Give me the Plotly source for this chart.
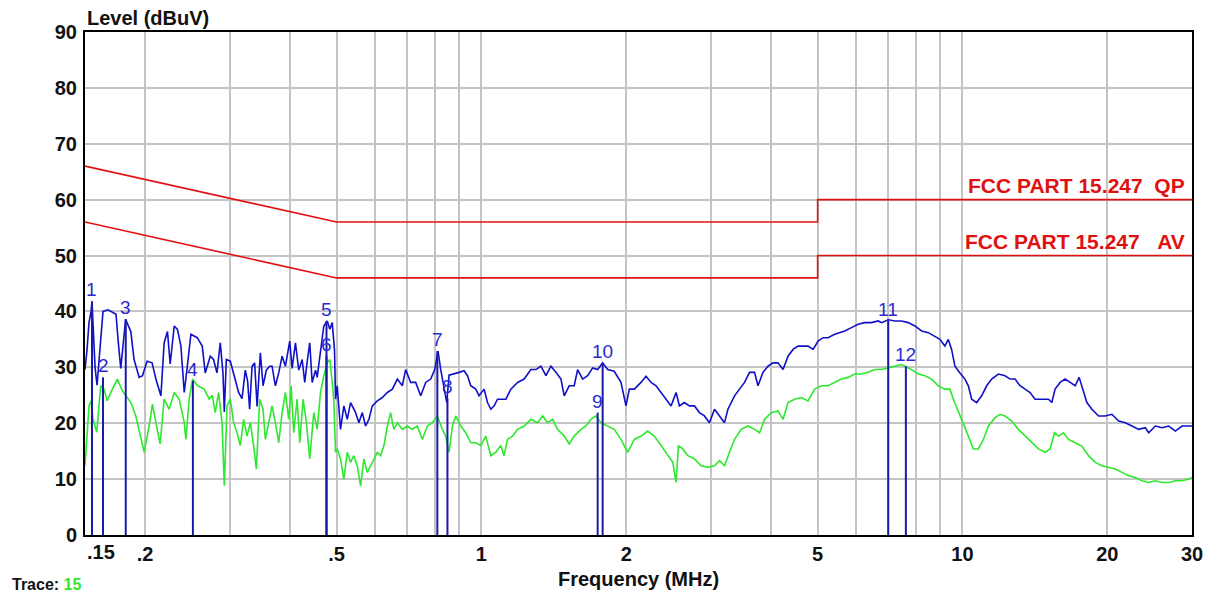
import math
import plotly.graph_objects as go

# ---------------- data ----------------
blue_freq = [0.150, 0.1514, 0.1529, 0.1544, 0.1551, 0.1562, 0.1574, 0.1589, 0.1604, 0.1620, 0.1635, 0.1675, 0.1715, 0.1740, 0.1757, 0.1780, 0.1800, 0.1822, 0.1844, 0.1868, 0.1897, 0.1944, 0.1975, 0.2019, 0.2068, 0.2106, 0.2157, 0.2191, 0.2226, 0.2255, 0.2299, 0.2335, 0.2374, 0.2412, 0.2450, 0.2490, 0.2567, 0.2629, 0.2667, 0.2732, 0.2775, 0.2821, 0.2866, 0.2903, 0.2922, 0.2950, 0.3007, 0.3055, 0.3129, 0.3180, 0.3231, 0.3267, 0.3298, 0.3337, 0.3378, 0.3418, 0.3472, 0.3517, 0.3573, 0.3630, 0.3672, 0.3731, 0.3791, 0.3853, 0.3915, 0.3996, 0.4042, 0.4107, 0.4173, 0.4241, 0.4294, 0.4344, 0.4398, 0.4449, 0.4521, 0.4557, 0.4630, 0.4704, 0.4782, 0.4842, 0.4898, 0.4952, 0.4976, 0.5016, 0.5096, 0.5178, 0.5263, 0.5347, 0.5477, 0.5564, 0.5656, 0.5746, 0.5838, 0.5934, 0.6078, 0.6225, 0.6376, 0.6531, 0.6689, 0.6851, 0.6960, 0.7129, 0.7302, 0.7479, 0.7661, 0.7847, 0.7999, 0.8126, 0.8232, 0.8364, 0.8473, 0.8566, 0.8774, 0.8987, 0.9205, 0.9356, 0.9505, 0.9736, 0.9891, 1.0131, 1.0298, 1.0462, 1.0629, 1.0804, 1.0977, 1.1243, 1.1515, 1.1891, 1.2274, 1.2675, 1.2982, 1.3297, 1.3620, 1.3950, 1.4288, 1.4635, 1.4865, 1.5225, 1.5594, 1.5851, 1.6236, 1.6629, 1.7033, 1.7447, 1.7868, 1.8302, 1.8888, 1.9506, 1.9980, 2.0300, 2.0792, 2.1470, 2.1992, 2.2526, 2.3072, 2.3633, 2.4206, 2.4794, 2.5395, 2.5802, 2.6427, 2.7069, 2.7726, 2.8400, 2.9088, 2.9795, 3.0519, 3.1259, 3.2018, 3.2544, 3.3063, 3.3590, 3.4404, 3.5240, 3.6095, 3.6971, 3.7578, 3.8490, 3.9423, 4.0380, 4.1360, 4.2365, 4.3392, 4.4445, 4.5524, 4.6628, 4.7760, 4.8920, 5.0106, 5.1321, 5.2568, 5.4258, 5.5575, 5.6924, 5.8781, 6.0699, 6.2651, 6.4698, 6.6813, 6.7878, 7.0097, 7.2353, 7.4717, 7.7157, 7.9640, 8.2241, 8.4924, 8.7659, 8.9760, 9.1931, 9.3443, 9.4937, 9.6453, 9.8796, 10.119, 10.286, 10.450, 10.703, 10.963, 11.229, 11.502, 11.878, 12.260, 12.558, 12.862, 13.174, 13.494, 13.821, 14.157, 14.618, 15.096, 15.336, 15.581, 15.959, 16.347, 16.743, 17.150, 17.481, 17.854, 18.139, 18.579, 19.186, 19.803, 20.450, 21.117, 21.797, 22.509, 23.244, 23.992, 24.387, 25.171, 25.992, 26.840, 27.704, 28.608, 29.543, 30.0]
blue_level = [29.6, 33, 38, 40, 41.8, 37, 30, 26.8, 31, 36, 40, 40.3, 39.8, 39.5, 35, 29.8, 34, 38.6, 37.5, 36.4, 31.4, 28.2, 28.5, 31.1, 30.8, 27.9, 24.9, 34.4, 36.4, 30.6, 37.4, 36.8, 33.8, 25.5, 30.5, 35.9, 35.3, 33.8, 29, 32, 31.4, 29, 34.4, 29, 22, 31.4, 31.1, 29, 25.5, 24.4, 29.5, 27.5, 22.5, 30.2, 30.8, 23, 32.6, 26.7, 29.5, 30.2, 30.2, 26.7, 29, 32, 30.2, 34.7, 29.8, 34.4, 29.5, 31.4, 27.3, 31, 34.4, 27.3, 29.5, 28.2, 32.6, 37.4, 38.3, 36.8, 38, 33, 24.3, 26.7, 18.9, 23.1, 20.7, 23.7, 21.9, 20.1, 21.9, 19.5, 20.7, 23.1, 24, 24.6, 25.5, 26.1, 27.9, 26.7, 29.6, 27.3, 27.3, 24.9, 27.3, 27.9, 29.6, 32.9, 29.6, 26.1, 23.7, 28.6, 28.8, 29.1, 29.4, 28.5, 26.7, 26.1, 24.9, 26.1, 23.7, 22.5, 23.1, 24.3, 24.3, 24.3, 26.1, 27.3, 27.9, 29.6, 29.6, 30.2, 28.5, 30.2, 29.1, 27.9, 24.9, 26.7, 26.7, 29.6, 27.9, 28.5, 29.9, 29.6, 30.8, 29.6, 29.3, 27.3, 23.1, 26.1, 26.1, 27.3, 28.4, 27.3, 26.7, 25.5, 24.3, 23.1, 25.5, 23.1, 23.7, 23.1, 23.1, 21.9, 21.3, 20.1, 22.5, 21.3, 20.1, 22.5, 23.7, 24.9, 26.1, 27.3, 29.1, 29.1, 26.7, 29.1, 30.2, 30.8, 30.8, 29.6, 32, 33.2, 33.8, 33.8, 33.8, 33.2, 34.7, 35.3, 35.3, 35.9, 36.2, 36.5, 37.1, 37.7, 38, 38, 38.3, 38, 38.5, 38.3, 38.3, 38, 37.4, 36.5, 36.2, 35.6, 35, 33.8, 35, 33.2, 30.2, 29, 27.9, 26.7, 24.3, 23.7, 24.9, 26.7, 27.9, 28.8, 28.5, 27.9, 27.9, 26.7, 26.1, 25.5, 24.3, 24.3, 24.3, 23.7, 26.1, 27.3, 27.9, 27.3, 26.7, 28.2, 25.5, 23.7, 22.5, 21.3, 21.3, 21.6, 20.4, 20.1, 19.5, 18.9, 19.2, 18.3, 19.5, 19.2, 19.5, 18.6, 19.5, 19.5, 19.5]

green_freq = [0.150, 0.1514, 0.1529, 0.1544, 0.1559, 0.1587, 0.1617, 0.1643, 0.1667, 0.1710, 0.1751, 0.1794, 0.1823, 0.1868, 0.1913, 0.1959, 0.1991, 0.2039, 0.2071, 0.2106, 0.2149, 0.2191, 0.2244, 0.2299, 0.2354, 0.2412, 0.2431, 0.2470, 0.2510, 0.2571, 0.2654, 0.2719, 0.2758, 0.2798, 0.2843, 0.2890, 0.2922, 0.2960, 0.3007, 0.3055, 0.3105, 0.3154, 0.3205, 0.3258, 0.3309, 0.3362, 0.3406, 0.3461, 0.3517, 0.3556, 0.3613, 0.3672, 0.3731, 0.3791, 0.3853, 0.3915, 0.3977, 0.4023, 0.4073, 0.4140, 0.4192, 0.4261, 0.4329, 0.4398, 0.4484, 0.4557, 0.4630, 0.4704, 0.4782, 0.4842, 0.4898, 0.4935, 0.4976, 0.5016, 0.5096, 0.5178, 0.5263, 0.5347, 0.5429, 0.5519, 0.5610, 0.5699, 0.5793, 0.5886, 0.5979, 0.6078, 0.6174, 0.6273, 0.6376, 0.6476, 0.6578, 0.6689, 0.6851, 0.7015, 0.7185, 0.7359, 0.7538, 0.7721, 0.7908, 0.8100, 0.8296, 0.8428, 0.8566, 0.8707, 0.8846, 0.9061, 0.9280, 0.9505, 0.9736, 0.9972, 1.0212, 1.0462, 1.0717, 1.0977, 1.1148, 1.1331, 1.1610, 1.1891, 1.2274, 1.2675, 1.3089, 1.3405, 1.3730, 1.4063, 1.4404, 1.4865, 1.5225, 1.5594, 1.6104, 1.6494, 1.6895, 1.7304, 1.7723, 1.8302, 1.8888, 1.9506, 2.0143, 2.0792, 2.1470, 2.2162, 2.2873, 2.3633, 2.4405, 2.4997, 2.5395, 2.5679, 2.6226, 2.6862, 2.7726, 2.8631, 2.9565, 3.0519, 3.1259, 3.2018, 3.2793, 3.3590, 3.4685, 3.5817, 3.6971, 3.7866, 3.8784, 4.0052, 4.1360, 4.2365, 4.3392, 4.4787, 4.6248, 4.7760, 4.9294, 5.0903, 5.2568, 5.4258, 5.6024, 5.7851, 5.9716, 6.1667, 6.3681, 6.5730, 6.7878, 7.0097, 7.2353, 7.4717, 7.5908, 7.8384, 8.0940, 8.3544, 8.6274, 8.9070, 9.1931, 9.4164, 9.5712, 9.8031, 10.042, 10.286, 10.536, 10.792, 11.054, 11.322, 11.686, 11.969, 12.260, 12.657, 13.073, 13.494, 13.934, 14.388, 14.851, 15.211, 15.535, 15.836, 16.221, 16.614, 17.150, 17.708, 18.287, 18.875, 19.489, 20.127, 20.774, 21.452, 22.152, 22.865, 23.612, 24.387, 25.171, 25.992, 26.840, 27.704, 28.608, 29.543, 30.0]
green_level = [12.4, 18, 23.1, 24, 20.7, 18.4, 26.7, 26.1, 24, 26.1, 27.9, 25.8, 24.9, 23.7, 21.3, 17.7, 14.8, 19.5, 23.4, 20.1, 16.3, 24.3, 22.5, 25.5, 24.3, 20.1, 17.1, 24.3, 27.9, 26.7, 26.1, 24.3, 25, 21.9, 25.5, 20.1, 8.8, 23.1, 24.3, 20.1, 18.3, 16, 20.7, 17.7, 20.1, 16, 11.8, 24.3, 22.5, 17.1, 20.1, 23.1, 20.1, 16.5, 21.9, 25.5, 20.7, 26.7, 18.3, 24.3, 16.5, 24.3, 20.1, 13.6, 21.9, 18.9, 25.5, 28.5, 30.8, 31.4, 27.3, 24, 14.8, 15.4, 13.6, 10, 14.8, 13, 14.2, 12.4, 8.8, 13.6, 11.2, 12.4, 13.6, 14.8, 14.2, 16, 19.5, 21.9, 18.9, 20.1, 18.9, 19.5, 18.9, 19.5, 17.1, 19.5, 20.1, 21.3, 18.9, 17.7, 14.8, 19.5, 21.3, 19.5, 18.3, 16.5, 16.5, 16, 17.7, 14.2, 14.8, 16, 14.2, 17.1, 17.7, 18.9, 19.5, 20.7, 20.1, 21.3, 20.1, 20.7, 18.9, 17.7, 16.3, 17.7, 18.9, 19.5, 20.7, 21.3, 20.1, 19.5, 18.9, 17.1, 14.8, 17.1, 17.7, 18.6, 17.7, 16, 14.2, 13, 9.4, 16, 15.4, 14.2, 13.6, 12.4, 12.1, 12.4, 13.3, 12.4, 14.8, 17.1, 18.9, 19.5, 18.9, 18.3, 20.7, 21.9, 22.2, 20.7, 23.7, 24.3, 24.6, 24, 26.1, 26.7, 26.7, 27.3, 27.9, 28.2, 28.8, 28.8, 29.1, 29.6, 29.6, 29.9, 30.2, 30.5, 30.2, 29.6, 28.8, 28.5, 27.9, 26.7, 26.1, 26.1, 24.3, 22.2, 20.1, 17.7, 15.4, 15.4, 17.1, 19.5, 21, 21.6, 21.3, 20.4, 18.9, 17.7, 16.5, 15.4, 14.8, 15.4, 18.3, 17.7, 18.3, 17.1, 16.5, 15.9, 14.2, 13, 12.4, 12.1, 11.8, 11.2, 10.6, 10.3, 9.7, 9.4, 9.7, 9.4, 9.4, 9.7, 9.7, 10, 10.3]

marker_label = ["1", "2", "3", "4", "5", "6", "7", "8", "9", "10", "11", "12"]
marker_freq = [0.1551, 0.1635, 0.1823, 0.2514, 0.4765, 0.4765, 0.8100, 0.8501, 1.7447, 1.7868, 7.0097, 7.6272]
marker_level = [41.8, 28.2, 38.6, 27.6, 38.3, 32.0, 32.9, 24.5, 21.9, 30.8, 38.3, 30.2]

limit_freq = [0.15, 0.5, 5, 5, 30]
qp_level = [66, 56, 56, 60, 60]
av_level = [56, 46, 46, 50, 50]
qp_name = "FCC PART 15.247\u00a0\u00a0QP"
av_name = "FCC PART 15.247\u00a0\u00a0\u00a0AV"

x_grid = [0.2, 0.3, 0.4, 0.5, 0.6, 0.7, 0.8, 0.9, 1, 2, 3, 4, 5, 6, 7, 8, 9, 10, 20, 30]
x_text = [".2", "", "", ".5", "", "", "", "", "1", "2", "", "", "5", "", "", "", "", "10", "20", "30"]
y_ticks = [0, 10, 20, 30, 40, 50, 60, 70, 80, 90]

# ---------------- figure ----------------
BLUE = "#1010c8"
GREEN = "#2ee82e"
RED = "#e01010"
MARK = "#1a1aa8"
FONT = "Liberation Sans, Arial, sans-serif"

fig = go.Figure()

fig.add_trace(go.Scatter(x=limit_freq, y=qp_level, mode="lines",
                         line=dict(color=RED, width=1.6), hoverinfo="skip"))
fig.add_trace(go.Scatter(x=limit_freq, y=av_level, mode="lines",
                         line=dict(color=RED, width=1.6), hoverinfo="skip"))

fig.add_trace(go.Scatter(x=green_freq, y=green_level, mode="lines",
                         line=dict(color=GREEN, width=1.6)))
fig.add_trace(go.Scatter(x=blue_freq, y=blue_level, mode="lines",
                         line=dict(color=BLUE, width=1.6)))

mx, my = [], []
for f, lv in zip(marker_freq, marker_level):
    mx += [f, f, None]
    my += [0, lv, None]
fig.add_trace(go.Scatter(x=mx, y=my, mode="lines",
                         line=dict(color=MARK, width=2), hoverinfo="skip"))

for lab, f, lv in zip(marker_label, marker_freq, marker_level):
    fig.add_annotation(x=math.log10(f), y=lv, xref="x", yref="y", text=lab, showarrow=False,
                       xanchor="center", yanchor="bottom", yshift=-1,
                       font=dict(family=FONT, size=19, color="#2a2ad0"))

fig.add_annotation(x=math.log10(limit_freq[-1]), y=qp_level[-1], xref="x", yref="y", text=qp_name,
                   showarrow=False, xanchor="right", yanchor="bottom", xshift=-5, yshift=1,
                   font=dict(family=FONT, size=21, color=RED, weight="bold"))
fig.add_annotation(x=math.log10(limit_freq[-1]), y=av_level[-1], xref="x", yref="y", text=av_name,
                   showarrow=False, xanchor="right", yanchor="bottom", xshift=-5, yshift=1,
                   font=dict(family=FONT, size=21, color=RED, weight="bold"))

fig.add_annotation(x=0, y=1.0, xref="paper", yref="paper", text="Level (dBuV)",
                   showarrow=False, xanchor="left", yanchor="bottom", yshift=1,
                   font=dict(family=FONT, size=20, color="#111111", weight="bold"))
fig.add_annotation(x=0.5, y=-0.088, xref="paper", yref="paper", text="Frequency (MHz)",
                   showarrow=False, xanchor="center", yanchor="middle",
                   font=dict(family=FONT, size=20, color="#111111", weight="bold"))
fig.add_annotation(x=0, y=0, xref="paper", yref="paper", text=".15",
                   showarrow=False, xanchor="left", yanchor="top", yshift=-4,
                   font=dict(family=FONT, size=20, color="#111111", weight="bold"))
fig.add_annotation(x=-0.068, y=-0.1195, xref="paper", yref="paper",
                   text="Trace: <span style='color:#2ee82e'>15</span>",
                   showarrow=False, xanchor="left", yanchor="bottom",
                   font=dict(family=FONT, size=16, color="#111111", weight="bold"))

fig.update_layout(
    width=1219, height=596,
    margin=dict(l=85, r=27, t=32, b=61),
    paper_bgcolor="white", plot_bgcolor="white",
    showlegend=False,
    font=dict(family=FONT, color="#111111"),
)
fig.update_xaxes(type="log", range=[-0.8239087, 1.4771213],
                 tickmode="array", tickvals=x_grid, ticktext=x_text, ticks="",
                 showgrid=True, gridcolor="#c4c4c4", gridwidth=1.5,
                 showline=True, linecolor="black", linewidth=2, mirror=True,
                 tickfont=dict(family=FONT, size=20, color="#111111", weight="bold"),
                 zeroline=False)
fig.update_yaxes(range=[0, 90], tickmode="array", tickvals=y_ticks, ticks="",
                 showgrid=True, gridcolor="#c4c4c4", gridwidth=1.5,
                 showline=True, linecolor="black", linewidth=2, mirror=True,
                 ticklabelstandoff=2,
                 tickfont=dict(family=FONT, size=20, color="#111111", weight="bold"),
                 zeroline=False)

fig.write_html("out.html", config={"displayModeBar": False},
               post_script="document.body.style.margin='0px';document.body.style.overflow='hidden';")
